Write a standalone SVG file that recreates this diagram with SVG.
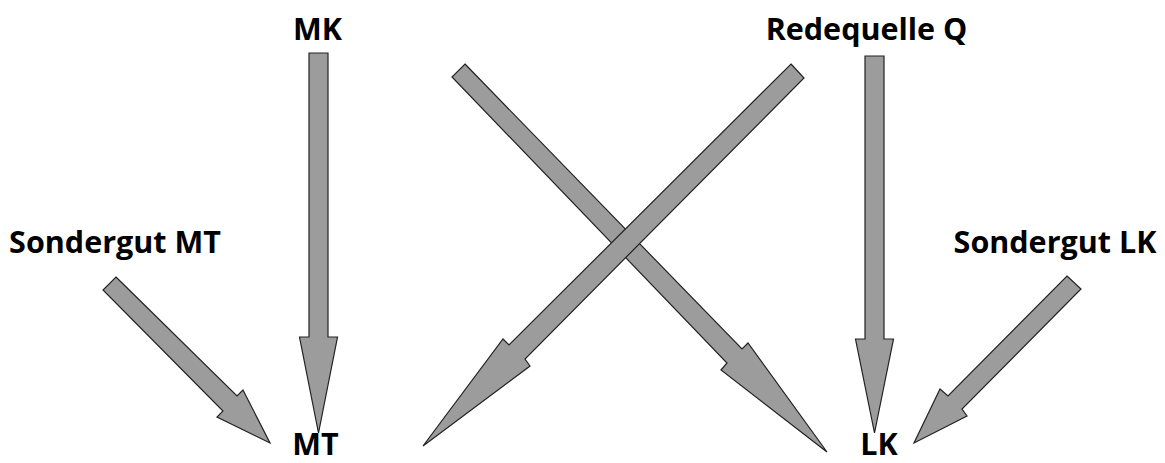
<svg xmlns="http://www.w3.org/2000/svg" width="1165" height="463" viewBox="0 0 1165 463">
<style>
.arr{fill:#9c9c9c;stroke:#222222;stroke-width:1.2;stroke-linejoin:miter}
.lbl{font-family:"Open Sans","DejaVu Sans",sans-serif;font-weight:bold;font-size:30.5px;fill:#000;text-anchor:middle}
</style>
<rect width="1165" height="463" fill="#ffffff"/>
<g id="connectors">
<polygon class="arr" points="309,53 328,53 328,337 337.5,337 318.5,433 299.5,337 309,337"/>
<polygon class="arr" points="865,56 884,56 884,339 893.5,339 874.5,433 855.5,339 865,339"/>
<polygon class="arr" points="465,64 742,349 748,343 827,452 721,370 727,363 452,77"/>
<polygon class="arr" points="791,64 804,78 525,359 530,366 423,446 503,339 509,345"/>
<polygon class="arr" points="116,277 237,396 243,390 270,443 217,417 223,411 103,290"/>
<polygon class="arr" points="1067,276 1081,289 962,409 967,416 914,443 940,389 948,396"/>
</g>
<g id="node-mk"><text class="lbl" x="317.5" y="40">MK</text></g>
<g id="node-q"><text class="lbl" x="866.5" y="40">Redequelle Q</text></g>
<g id="node-smt"><text class="lbl" x="115" y="253">Sondergut MT</text></g>
<g id="node-slk"><text class="lbl" x="1055" y="253">Sondergut LK</text></g>
<g id="node-mt"><text class="lbl" x="315.5" y="455">MT</text></g>
<g id="node-lk"><text class="lbl" x="879" y="455">LK</text></g>
</svg>
